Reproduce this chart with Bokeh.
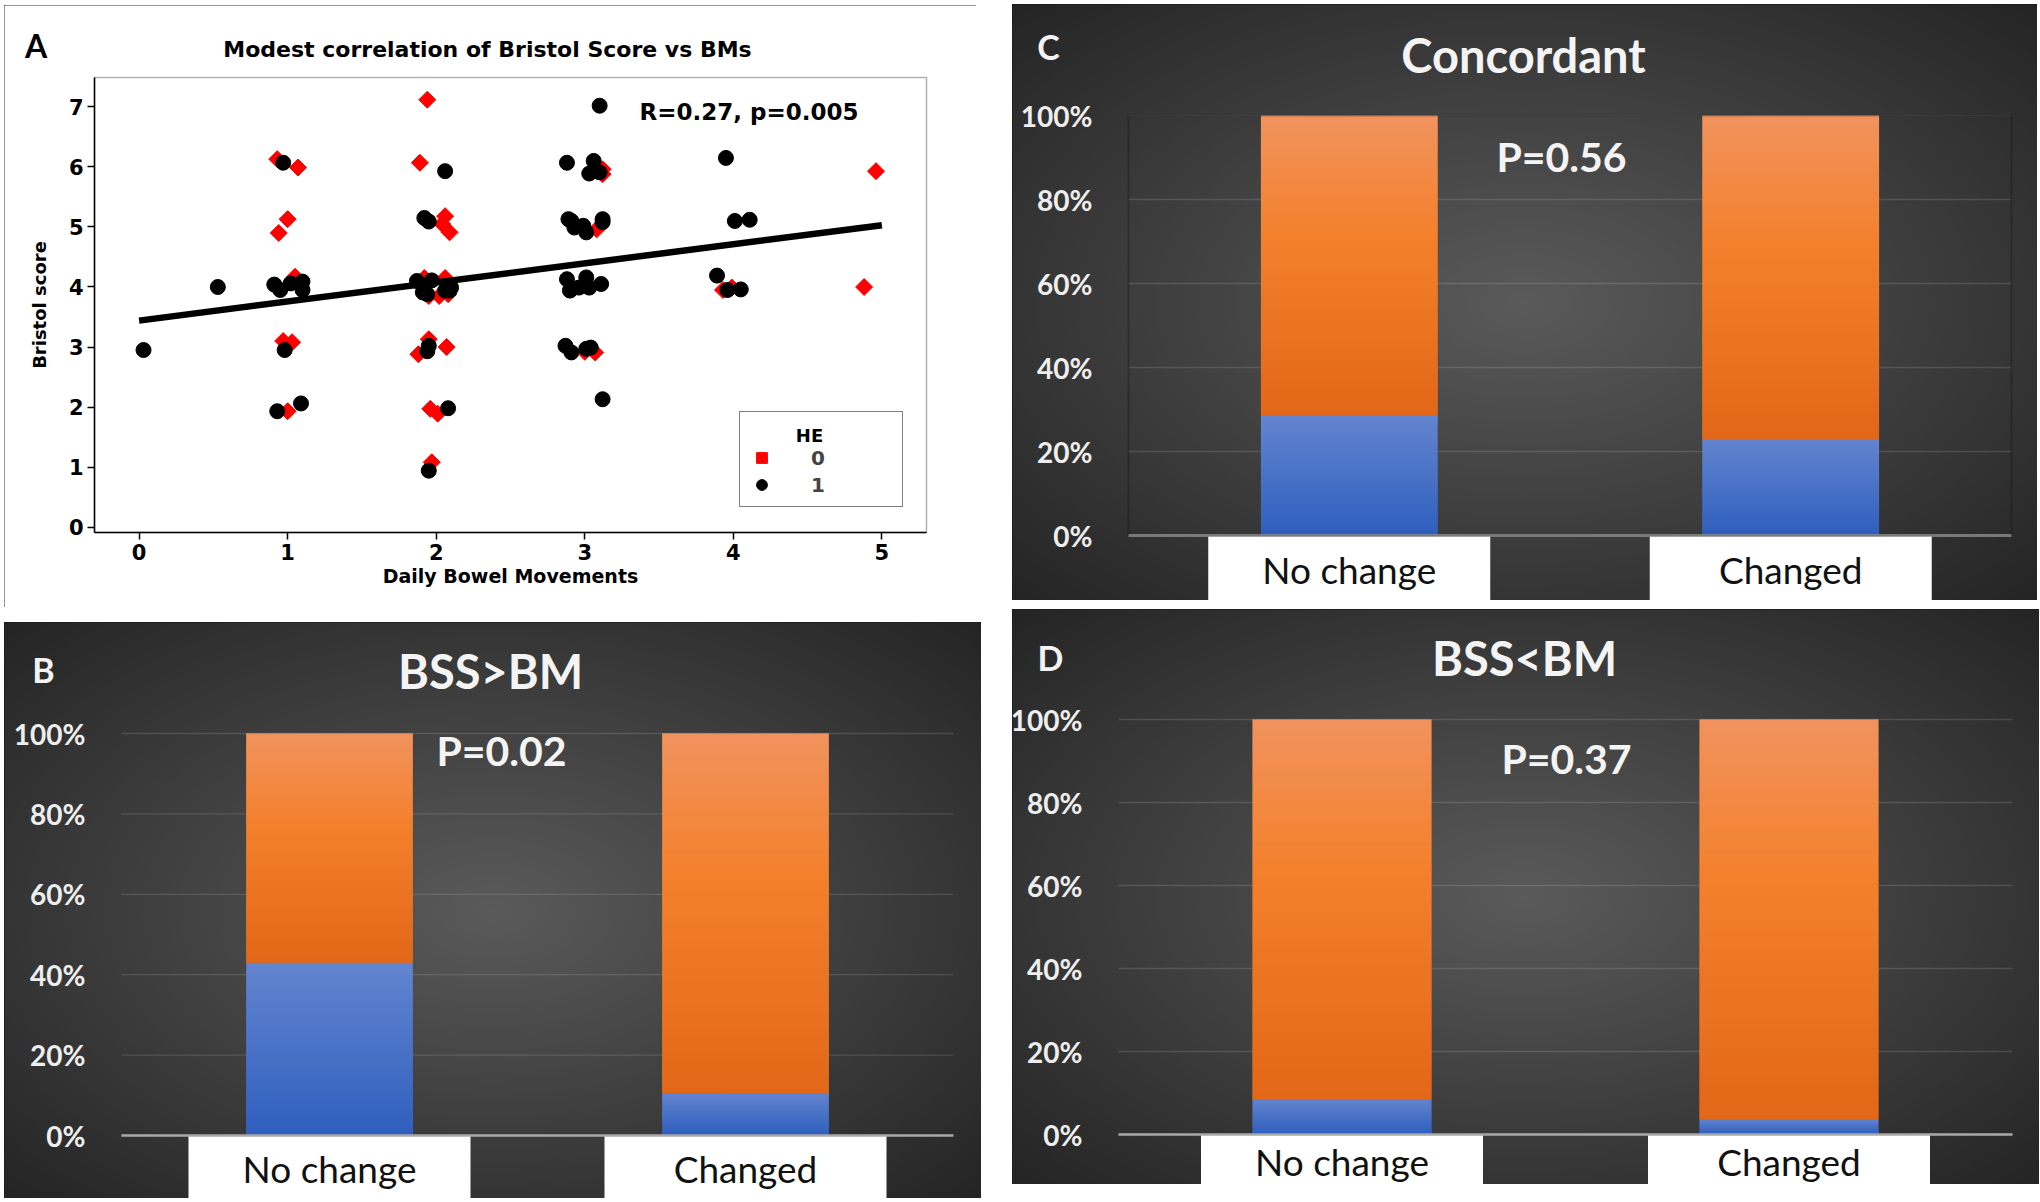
import numpy as np
from bokeh.plotting import figure
from bokeh.models import (Range1d, NumeralTickFormatter, Label, Legend, LegendItem,
                          BoxAnnotation, Spacer)
from bokeh.layouts import row, column
from bokeh.embed import file_html
from bokeh.resources import INLINE
from bokeh.core.properties import value

# ---------------- Panel A data ----------------
he0_bm = [1.94, 0.93, 1.07, 1.00, 0.94, 1.89, 2.06, 2.04, 2.09, 1.05, 1.92, 2.06,
          1.95, 2.02, 2.08, 0.97, 1.03, 1.95, 1.88, 2.07, 1.00, 1.96, 2.01, 1.97,
          3.12, 3.12, 3.08, 3.07, 3.00, 4.96, 4.88, 3.93, 3.99]
he0_bss = [7.12, 6.13, 5.99, 5.13, 4.90, 6.07, 5.18, 5.05, 4.91, 4.17, 4.15, 4.15,
           3.85, 3.85, 3.88, 3.10, 3.08, 3.13, 2.88, 3.00, 1.93, 1.97, 1.89, 1.08,
           5.96, 5.88, 4.96, 2.91, 2.92, 5.93, 4.00, 3.95, 3.99]
he1_bm = [0.97, 2.06, 1.92, 1.95, 0.53, 0.91, 0.95, 1.02, 1.10, 1.10, 1.87, 1.97,
          1.91, 2.10, 2.09, 2.06, 1.94, 0.03, 0.98, 1.95, 1.94, 0.93, 1.09, 2.08,
          1.95, 3.10, 2.88, 3.06, 3.03, 3.10, 3.95, 2.89, 2.91, 2.93, 2.99, 3.01,
          3.12, 3.12, 4.01, 4.11, 2.88, 2.90, 2.96, 3.01, 3.03, 3.11, 3.89, 3.96,
          4.05, 2.87, 2.91, 3.01, 3.04, 3.12]
he1_bss = [6.07, 5.93, 5.15, 5.09, 4.00, 4.04, 3.95, 4.06, 4.09, 3.95, 4.10, 4.11,
           3.91, 3.99, 3.94, 3.94, 3.88, 2.95, 2.95, 3.02, 2.93, 1.93, 2.06, 1.98,
           0.94, 7.02, 6.07, 6.10, 5.89, 5.91, 6.15, 5.13, 5.10, 4.99, 5.02, 4.91,
           5.13, 5.08, 5.10, 5.12, 4.13, 3.94, 3.99, 4.16, 3.99, 4.05, 4.19, 3.95,
           3.96, 3.02, 2.91, 2.97, 2.99, 2.13]
fit_bm = [0.0, 5.0]
fit_bss = [3.44, 5.03]
bm_ticks = [0, 1, 2, 3, 4, 5]
bss_ticks = [0, 1, 2, 3, 4, 5, 6, 7]
bm_limits = (-0.3, 5.3)
bss_limits = (-0.09, 7.49)
he_labels = ["0", "1"]

# ---------------- Panels B, C, D data ----------------
categories = ["No change", "Changed"]
pct_ticks = [0, 0.2, 0.4, 0.6, 0.8, 1.0]
bss_gt_bm_blue = [43.0, 10.5]
bss_gt_bm_orange = [57.0, 89.5]
concordant_blue = [28.5, 23.0]
concordant_orange = [71.5, 77.0]
bss_lt_bm_blue = [8.5, 3.7]
bss_lt_bm_orange = [91.5, 96.3]

BLUE = "#4673ca"
ORANGE = "#ee7b2e"
# vertical shading of the bar segments: (position from bottom, rgb)
BLUE_STOPS = [(0.0, (46, 94, 190)), (1.0, (100, 133, 207))]
ORANGE_STOPS = [(0.0, (226, 103, 24)), (0.6, (244, 128, 44)), (1.0, (241, 147, 94))]
EDGE_GRAY = 36
CENTER_GRAY = 90
DARK = "#282828"


class Geo:
    """Maps panel pixels (from the panel's top-left) to data coordinates."""

    def __init__(self, W, H, box_px, box_data):
        pl, pt, pr, pb = box_px
        x0, x1, y0, y1 = box_data
        ux = (pr - pl) / (x1 - x0)
        uy = (pb - pt) / (y1 - y0)
        self.ux, self.uy = ux, uy
        self.xs = x0 - pl / ux
        self.xe = x1 + (W - pr) / ux
        self.ye = y1 + pt / uy
        self.ys = y0 - (H - pb) / uy

    def x(self, px):
        return self.xs + px / self.ux

    def y(self, py):
        return self.ye - py / self.uy


def rgba_image(channels):
    r, g, b = channels
    h, w = r.shape
    img = np.empty((h, w), dtype=np.uint32)
    view = img.view(dtype=np.uint8).reshape((h, w, 4))
    view[..., 0] = r
    view[..., 1] = g
    view[..., 2] = b
    view[..., 3] = 255
    return img


def vertical_shade(stops, rows=128):
    t = (np.arange(rows) + 0.5) / rows
    pos = [s[0] for s in stops]
    chans = []
    for k in range(3):
        c = np.interp(t, pos, [s[1][k] for s in stops])
        chans.append(np.round(c).astype(np.uint8).reshape(rows, 1))
    return rgba_image(chans)


# ---------------- Panel A ----------------
FONT_A = "DejaVu Sans"
WA, HA = 972, 602
ga = Geo(WA, HA, (90, 72, 922, 527), (bm_limits[0], bm_limits[1], bss_limits[0], bss_limits[1]))
pa = figure(width=WA, height=HA, x_range=Range1d(ga.xs, ga.xe), y_range=Range1d(ga.ys, ga.ye),
            output_backend="svg", toolbar_location=None, title=None, min_border=0,
            outline_line_color=None,
            styles={"outline": "2px solid #2a2a2a", "outline-offset": "-2px"})
pa.grid.visible = False
pa.add_layout(BoxAnnotation(left=bm_limits[0], right=bm_limits[1], bottom=bss_limits[0],
                            top=bss_limits[1], fill_color=None, line_color="black",
                            line_width=1.5))

pa.xaxis.fixed_location = bss_limits[0]
pa.xaxis.bounds = bm_limits
pa.yaxis.fixed_location = bm_limits[0]
pa.yaxis.bounds = bss_limits
pa.xaxis.ticker = bm_ticks
pa.yaxis.ticker = bss_ticks
pa.xaxis.axis_label = "Daily Bowel Movements"
pa.yaxis.axis_label = "Bristol score"
for ax in (pa.xaxis[0], pa.yaxis[0]):
    ax.major_tick_out = 7
    ax.major_tick_in = 0
    ax.minor_tick_line_color = None
    ax.axis_line_width = 1.5
    ax.major_tick_line_width = 1.5
    ax.major_label_text_font = FONT_A
    ax.major_label_text_font_style = "bold"
    ax.major_label_text_font_size = "21px"
    ax.major_label_text_color = "black"
    ax.major_label_standoff = 4
    ax.axis_label_text_font = FONT_A
    ax.axis_label_text_font_style = "bold"
    ax.axis_label_text_color = "black"
pa.xaxis.axis_label_text_font_size = "19px"
pa.yaxis.axis_label_text_font_size = "18px"
pa.xaxis.axis_label_standoff = 2
pa.yaxis.axis_label_standoff = 16

r0 = pa.scatter(he0_bm, he0_bss, marker="square", angle=np.pi / 4, size=12,
                fill_color="#ff0000", line_color="#ff0000")
r1 = pa.scatter(he1_bm, he1_bss, marker="circle", size=15,
                fill_color="black", line_color="black")
pa.line(fit_bm, fit_bss, line_width=6.5, line_color="black")

pa.add_layout(Label(x=ga.x(483), y=ga.y(43.5), text="Modest correlation of Bristol Score vs BMs",
                    text_align="center", text_baseline="middle", text_font=FONT_A,
                    text_font_style="bold", text_font_size="22px", text_color="black"))
pa.add_layout(Label(x=ga.x(744.5), y=ga.y(106.7), text="R=0.27, p=0.005", text_align="center",
                    text_baseline="middle", text_font=FONT_A, text_font_style="bold",
                    text_font_size="23px", text_color="black"))
pa.add_layout(Label(x=ga.x(31.5), y=ga.y(40), text="A", text_align="center",
                    text_baseline="middle", text_font="Lato", text_font_style="bold",
                    text_font_size="32px", text_color="black"))

pa.add_layout(Label(x=ga.x(805), y=ga.y(430), text="HE", text_align="center",
                    text_baseline="middle", text_font=FONT_A, text_font_style="bold",
                    text_font_size="18px", text_color="black"))
legend = Legend(items=[LegendItem(label=value(he_labels[0]), renderers=[r0]),
                       LegendItem(label=value(he_labels[1]), renderers=[r1])],
                location=(735, HA - 502), title=" ", margin=0, padding=8,
                glyph_width=27, glyph_height=27, spacing=0, label_standoff=36,
                label_width=83, title_standoff=3,
                border_line_color="black", border_line_width=1.5,
                background_fill_alpha=0.0)
legend.label_text_font = FONT_A
legend.label_text_font_style = "bold"
legend.label_text_font_size = "20px"
legend.title_text_font = FONT_A
legend.title_text_font_size = "18px"
pa.add_layout(legend)


# ---------------- Panels B, C, D ----------------
def radial_background(W, H, step=3):
    nx, ny = W // step, H // step
    xs = (np.arange(nx) + 0.5) * W / nx
    ys = (np.arange(ny) + 0.5) * H / ny
    X, Y = np.meshgrid(xs, ys)
    r = np.sqrt(((X - W / 2) / (W / 2)) ** 2 + ((Y - H / 2) / (H / 2)) ** 2) / np.sqrt(2)
    r = np.clip(r, 0, 1)
    v = np.round(CENTER_GRAY + (EDGE_GRAY - CENTER_GRAY) * r).astype(np.uint8)
    return rgba_image([v, v, v])


def bar_panel(letter, title, ptext, blue, orange, W, H, box_px,
              title_px, p_px, letter_px, label_drop, boxed=False):
    n = len(categories)
    g = Geo(W, H, box_px, (0, n, 0, 1))
    xs = [i + 0.5 for i in range(n)]
    bar_w = 0.4
    p = figure(width=W, height=H, x_range=Range1d(g.xs, g.xe), y_range=Range1d(g.ys, g.ye),
               x_axis_type=None, output_backend="svg", toolbar_location=None, title=None,
               min_border=0, background_fill_color=DARK, border_fill_color=DARK,
               outline_line_color=None,
               styles={"outline": "2px solid #111111", "outline-offset": "-2px"})
    p.image_rgba(image=[radial_background(W, H)], x=g.xs, y=g.ys, dw=g.xe - g.xs,
                 dh=g.ye - g.ys, level="image")
    p.ygrid.visible = False
    # horizontal gridlines across the plot area only
    p.segment(x0=[0] * len(pct_ticks), x1=[n] * len(pct_ticks), y0=pct_ticks, y1=pct_ticks,
              line_color="white", line_alpha=0.13, line_width=1.3)
    if boxed:
        p.add_layout(BoxAnnotation(left=0, right=n, bottom=0, top=1, fill_color=None,
                                   line_color="#121212", line_width=2))
    blue_f = [b / 100 for b in blue]
    top = [b / 100 + o / 100 for b, o in zip(blue, orange)]
    p.vbar(x=xs, bottom=0, top=blue_f, width=bar_w, fill_color=BLUE, line_color=None)
    p.vbar(x=xs, bottom=blue_f, top=top, width=bar_w, fill_color=ORANGE, line_color=None)
    # shading of each stacked segment
    p.image_rgba(image=[vertical_shade(BLUE_STOPS)] * n, x=[x - bar_w / 2 for x in xs],
                 y=[0] * n, dw=[bar_w] * n, dh=blue_f)
    p.image_rgba(image=[vertical_shade(ORANGE_STOPS)] * n, x=[x - bar_w / 2 for x in xs],
                 y=blue_f, dw=[bar_w] * n, dh=[t - b for t, b in zip(top, blue_f)])
    # white label boxes under the category axis
    p.vbar(x=xs, bottom=g.ys, top=0, width=282 / g.ux, fill_color="white", line_color=None)
    p.text(x=xs, y=[g.y(box_px[3] + label_drop)] * n, text=categories, text_font=value("Lato"),
           text_font_size="37px", text_align="center", text_baseline="middle",
           text_color="#111111")
    p.segment(x0=[0], x1=[n], y0=[pct_ticks[0]], y1=[pct_ticks[0]], line_color="#a8a8a8",
              line_width=2.5)

    p.yaxis.fixed_location = 0
    p.yaxis.bounds = (pct_ticks[0], pct_ticks[-1])
    p.yaxis.ticker = pct_ticks
    p.yaxis.formatter = NumeralTickFormatter(format="0%")
    p.yaxis.axis_line_color = None
    p.yaxis.major_tick_line_color = None
    p.yaxis.minor_tick_line_color = None
    p.yaxis.major_label_standoff = 30
    p.yaxis.major_label_text_font = "Lato"
    p.yaxis.major_label_text_font_style = "bold"
    p.yaxis.major_label_text_font_size = "28px"
    p.yaxis.major_label_text_color = "#eeeeee"

    for text, (px, py), size in ((title, title_px, "47px"), (ptext, p_px, "41px"),
                                 (letter, letter_px, "34px")):
        p.add_layout(Label(x=g.x(px), y=g.y(py), text=text, text_align="center",
                           text_baseline="middle", text_font="Lato", text_font_style="bold",
                           text_font_size=size, text_color="#f4f4f4"))
    return p


pb = bar_panel("B", "BSS>BM", "P=0.02", bss_gt_bm_blue, bss_gt_bm_orange,
               W=977, H=576, box_px=(117, 111, 949, 513),
               title_px=(486, 48), p_px=(497, 128), letter_px=(39, 47), label_drop=33)
pc = bar_panel("C", "Concordant", "P=0.56", concordant_blue, concordant_orange,
               W=1025, H=596, box_px=(116, 111, 999, 531),
               title_px=(511, 50), p_px=(549, 152), letter_px=(36, 42), label_drop=34,
               boxed=True)
pd = bar_panel("D", "BSS<BM", "P=0.37", bss_lt_bm_blue, bss_lt_bm_orange,
               W=1027, H=575, box_px=(106, 110, 1000, 525),
               title_px=(512, 48), p_px=(554, 149), letter_px=(38, 48), label_drop=27)

left_col = column(Spacer(width=1, height=5), pa, Spacer(width=1, height=15), pb)
right_col = column(Spacer(width=1, height=4), pc, Spacer(width=1, height=9), pd)
layout = row(Spacer(width=4, height=1), left_col, Spacer(width=31, height=1), right_col)

open("out.html", "w").write(file_html(layout, INLINE))
